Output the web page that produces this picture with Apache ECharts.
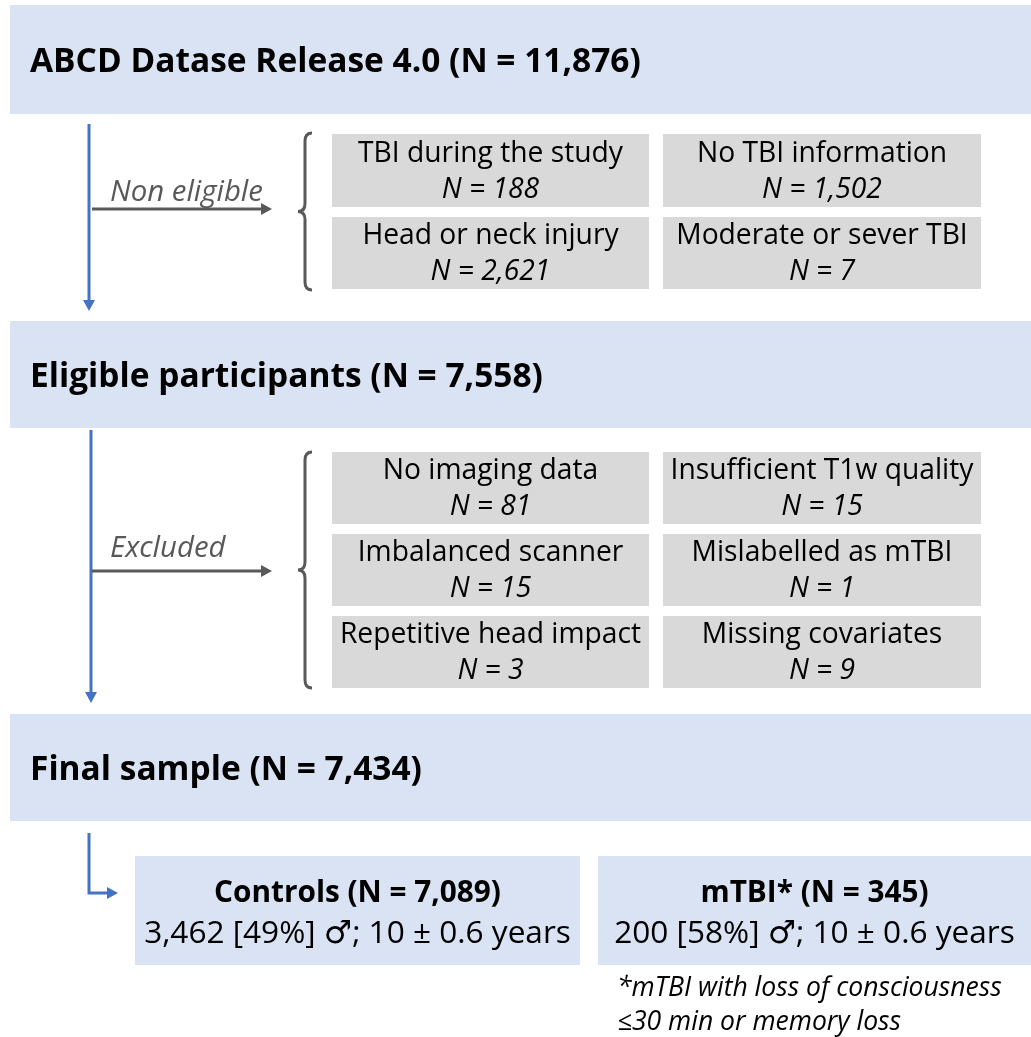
<!DOCTYPE html>
<html>
<head>
<meta charset="utf-8">
<script src="https://cdn.jsdelivr.net/npm/echarts@6/dist/echarts.min.js"></script>
<style>
html,body{margin:0;padding:0;background:#fff;}
#chart{width:1031px;height:1037px;}
</style>
</head>
<body>
<div id="chart"></div>
<script>
// ---------------- data ----------------
var stageTitles = ['ABCD Datase Release 4.0 (N = 11,876)', 'Eligible participants (N = 7,558)', 'Final sample (N = 7,434)'];
var flowLabels = ['Non eligible', 'Excluded'];
var nonEligibleReasons = ['TBI during the study', 'No TBI information', 'Head or neck injury', 'Moderate or sever TBI'];
var nonEligibleN = ['188', '1,502', '2,621', '7'];
var excludedReasons = ['No imaging data', 'Insufficient T1w quality', 'Imbalanced scanner', 'Mislabelled as mTBI', 'Repetitive head impact', 'Missing covariates'];
var excludedN = ['81', '15', '15', '1', '3', '9'];
var groupNames = ['Controls', 'mTBI*'];
var groupN = ['7,089', '345'];
var groupMale = ['3,462', '200'];
var groupMalePct = ['49%', '58%'];
var groupAge = ['10 ± 0.6', '10 ± 0.6'];
var footnote = ['*mTBI with loss of consciousness', '≤30 min or memory loss'];

// ---------------- layout (page units) ----------------
var FONT = '"Open Sans", "DejaVu Sans", sans-serif';
var cv = document.createElement('canvas').getContext('2d');
function fit(text, weight, style, target) {
  cv.font = style + ' ' + weight + ' 100px ' + FONT;
  return 100 * target / cv.measureText(text).width;
}
var titleSize = fit(stageTitles[0], 'bold', 'normal', 611);
var boxSize = fit('Insufficient T1w quality', 'normal', 'normal', 303);
var groupBoldSize = fit('Controls (N = 7,089)', 'bold', 'normal', 287);
var groupDescSize = fit('3,462 [49%] ♂; 10 ± 0.6 years', 'normal', 'normal', 427);
var noteSize = fit(footnote[0], 'normal', 'italic', 385);
var flowSize = fit('Non eligible', 'normal', 'italic', 153);

var BLUE_FILL = '#dae3f3', GREY_FILL = '#d9d9d9', BLUE = '#4472c4', GREY = '#595959';

var items = [];
// stage boxes
var stageRows = [[5, 114], [321, 428], [714, 821]];
stageTitles.forEach(function (t, i) {
  var r = stageRows[i];
  items.push({k: 'rect', x0: 10, y0: r[0], x1: 1031, y1: r[1], fill: BLUE_FILL});
  items.push({k: 'text', x: 30, y: (r[0] + r[1]) / 2 + 3, text: t, size: titleSize, weight: 'bold', align: 'left', fill: '#000'});
});
// reason grids
var cols = [[332, 649], [663, 981]];
function grid(reasons, ns, rows) {
  reasons.forEach(function (t, i) {
    var c = cols[i % 2], r = rows[Math.floor(i / 2)];
    var cy = (r[0] + r[1]) / 2;
    items.push({k: 'rect', x0: c[0], y0: r[0], x1: c[1], y1: r[1], fill: GREY_FILL});
    items.push({k: 'text', x: (c[0] + c[1]) / 2, y: cy - 17, text: t, size: boxSize, weight: 'normal', align: 'center', fill: '#000'});
    items.push({k: 'text', x: (c[0] + c[1]) / 2, y: cy + 19, text: 'N = ' + ns[i], size: boxSize, weight: 'normal', style: 'italic', align: 'center', fill: '#000'});
  });
}
grid(nonEligibleReasons, nonEligibleN, [[134, 207], [217, 289]]);
grid(excludedReasons, excludedN, [[452, 524], [534, 606], [616, 688]]);
// braces
items.push({k: 'brace', x: 298, y0: 133, y1: 290});
items.push({k: 'brace', x: 298, y0: 452, y1: 688});
// arrows
items.push({k: 'arrow', pts: [[89, 124], [89, 311]], color: BLUE, w: 3});
items.push({k: 'arrow', pts: [[91, 430], [91, 703]], color: BLUE, w: 3});
items.push({k: 'arrow', pts: [[89, 833], [89, 893], [118, 893]], color: BLUE, w: 3});
items.push({k: 'arrow', pts: [[92, 209], [272, 209]], color: GREY, w: 3});
items.push({k: 'arrow', pts: [[92, 571], [272, 571]], color: GREY, w: 3});
items.push({k: 'text', x: 110, y: 193, text: flowLabels[0], size: flowSize, weight: 'normal', style: 'italic', align: 'left', fill: GREY});
items.push({k: 'text', x: 110, y: 549, text: flowLabels[1], size: flowSize, weight: 'normal', style: 'italic', align: 'left', fill: GREY});
// group boxes
var groupCols = [[135, 580], [598, 1031]];
groupNames.forEach(function (g, i) {
  var c = groupCols[i];
  var cx = (c[0] + c[1]) / 2;
  items.push({k: 'rect', x0: c[0], y0: 856, x1: c[1], y1: 965, fill: BLUE_FILL});
  items.push({k: 'text', x: cx, y: 894, text: g + ' (N = ' + groupN[i] + ')', size: groupBoldSize, weight: 'bold', align: 'center', fill: '#000'});
  items.push({k: 'text', x: cx, y: 934, text: groupMale[i] + ' [' + groupMalePct[i] + '] ♂; ' + groupAge[i] + ' years', size: groupDescSize, weight: 'normal', align: 'center', fill: '#000'});
});
items.push({k: 'text', x: 617, y: 988, text: footnote[0], size: noteSize, weight: 'normal', style: 'italic', align: 'left', fill: '#000'});
items.push({k: 'text', x: 617, y: 1022, text: footnote[1], size: noteSize, weight: 'normal', style: 'italic', align: 'left', fill: '#000'});

function renderItem(params, api) {
  var it = items[params.dataIndex];
  var P = function (x, y) { return api.coord([x, y]); };
  if (it.k === 'rect') {
    var a = P(it.x0, it.y0), b = P(it.x1, it.y1);
    return {type: 'rect', shape: {x: a[0], y: a[1], width: b[0] - a[0], height: b[1] - a[1]}, style: {fill: it.fill}};
  }
  if (it.k === 'text') {
    var p = P(it.x, it.y);
    return {type: 'text', x: p[0], y: p[1], style: {
      text: it.text, fill: it.fill, fontFamily: FONT, fontSize: it.size,
      fontWeight: it.weight, fontStyle: it.style || 'normal',
      align: it.align, verticalAlign: 'middle'}};
  }
  if (it.k === 'brace') {
    var x0 = it.x, ym = (it.y0 + it.y1) / 2;
    var t = P(x0 + 14, it.y0), tm = P(x0 + 7, it.y0 + 8), m1 = P(x0 + 7, ym - 8), m = P(x0, ym), m2 = P(x0 + 7, ym + 8), bm = P(x0 + 7, it.y1 - 8), bt = P(x0 + 14, it.y1);
    var c1 = P(x0 + 7, it.y0), c2 = P(x0 + 7, ym), c3 = P(x0 + 7, it.y1);
    var d = 'M' + t + ' Q' + c1 + ' ' + tm + ' L' + m1 + ' Q' + c2 + ' ' + m + ' Q' + c2 + ' ' + m2 + ' L' + bm + ' Q' + c3 + ' ' + bt;
    return {type: 'path', shape: {pathData: d.replace(/,/g, ' ')}, style: {fill: 'none', stroke: GREY, lineWidth: 3}};
  }
  if (it.k === 'arrow') {
    var pts = it.pts.map(function (q) { return P(q[0], q[1]); });
    var n = pts.length, e = pts[n - 1], s = pts[n - 2];
    var dx = e[0] - s[0], dy = e[1] - s[1], L = Math.sqrt(dx * dx + dy * dy);
    var ux = dx / L, uy = dy / L, hl = 11, hw = 6;
    var base = [e[0] - ux * hl, e[1] - uy * hl];
    var linePts = pts.slice(0, n - 1).concat([base]);
    return {type: 'group', children: [
      {type: 'polyline', shape: {points: linePts}, style: {fill: 'none', stroke: it.color, lineWidth: it.w}},
      {type: 'polygon', shape: {points: [e, [base[0] - uy * hw, base[1] + ux * hw], [base[0] + uy * hw, base[1] - ux * hw]]}, style: {fill: it.color}}
    ]};
  }
}

var chart = echarts.init(document.getElementById('chart'), null, {renderer: 'canvas'});
chart.setOption({
  backgroundColor: '#ffffff',
  animation: false,
  grid: {left: 0, right: 0, top: 0, bottom: 0},
  xAxis: {type: 'value', min: 0, max: 1031, show: false},
  yAxis: {type: 'value', min: 0, max: 1037, inverse: true, show: false},
  series: [{
    type: 'custom',
    clip: false,
    renderItem: renderItem,
    data: items.map(function (it, i) { return [i]; }),
    encode: {x: [], y: []},
    silent: true
  }]
});
</script>
</body>
</html>
